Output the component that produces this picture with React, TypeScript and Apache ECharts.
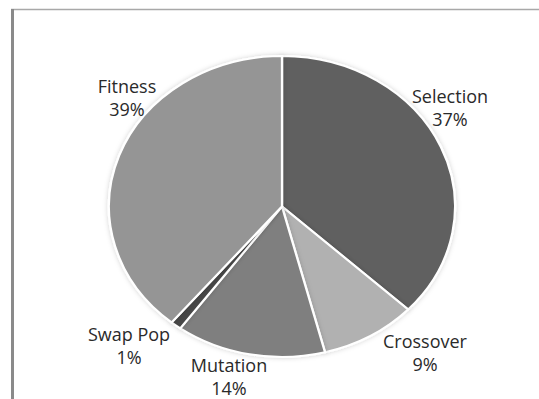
import React, { useEffect, useRef } from 'react';
import * as echarts from 'echarts';

// Share of run time per genetic-algorithm stage (percent)
const categories = ['Selection', 'Crossover', 'Mutation', 'Swap Pop', 'Fitness'];
const shares = [37, 9, 14, 1, 39];

// Styling and layout
const sliceColors = ['#606060', '#b1b1b1', '#7f7f7f', '#474747', '#959595'];
const labelCenters: [number, number][] = [
  [450, 107],
  [425, 352],
  [229, 376],
  [129, 345],
  [127, 97],
];
const CX = 282;
const CY = 206.5;
const RY = 150.5;
const RX = 173;

export default function App() {
  const ref = useRef<HTMLDivElement>(null);

  useEffect(() => {
    if (!ref.current) return;
    const chart = echarts.init(ref.current, undefined, { renderer: 'svg' });
    const total = shares.reduce((a, b) => a + b, 0);
    const starts: number[] = [];
    shares.reduce((acc, v) => {
      starts.push(acc);
      return acc + v;
    }, 0);

    chart.setOption({
      animation: false,
      backgroundColor: '#ffffff',
      graphic: [
        {
          type: 'line',
          shape: { x1: 11, y1: 9.5, x2: 539, y2: 9.5 },
          style: { stroke: '#a8a8a8', lineWidth: 1.5 },
          z: 10,
        },
        {
          type: 'rect',
          shape: { x: 11, y: 9, width: 3, height: 390 },
          style: { fill: '#8a8a8a' },
          z: 10,
        },
      ],
      series: [
        {
          type: 'custom',
          coordinateSystem: 'none',
          data: shares.map((v, i) => ({ name: categories[i], value: v })),
          renderItem: (params: any, api: any) => {
            const i = params.dataIndex;
            const value = api.value(0);
            const a0 = -Math.PI / 2 + (starts[i] / total) * Math.PI * 2;
            const a1 = a0 + (value / total) * Math.PI * 2;
            const [lx, ly] = labelCenters[i];
            return {
              type: 'group',
              children: [
                {
                  type: 'group',
                  x: CX,
                  y: CY,
                  scaleX: RX / RY,
                  scaleY: 1,
                  children: [
                    {
                      type: 'sector',
                      shape: {
                        cx: 0,
                        cy: 0,
                        r0: 0,
                        r: RY,
                        startAngle: a0,
                        endAngle: a1,
                        clockwise: true,
                      },
                      style: {
                        fill: sliceColors[i],
                        stroke: '#ffffff',
                        lineWidth: 2,
                        strokeNoScale: true,
                        shadowBlur: 5,
                        shadowColor: 'rgba(0,0,0,0.18)',
                      },
                    },
                  ],
                },
                {
                  type: 'text',
                  x: lx,
                  y: ly,
                  z2: 10,
                  style: {
                    text: `${categories[i]}\n${value}%`,
                    fontFamily: 'Open Sans',
                    fontSize: 18,
                    lineHeight: 23,
                    fill: '#2a2a2a',
                    align: 'center',
                    verticalAlign: 'middle',
                  },
                },
              ],
            };
          },
        },
      ],
    });
    return () => chart.dispose();
  }, []);

  return (
    <div
      ref={ref}
      style={{ position: 'fixed', left: 0, top: 0, width: 539, height: 399 }}
    />
  );
}
